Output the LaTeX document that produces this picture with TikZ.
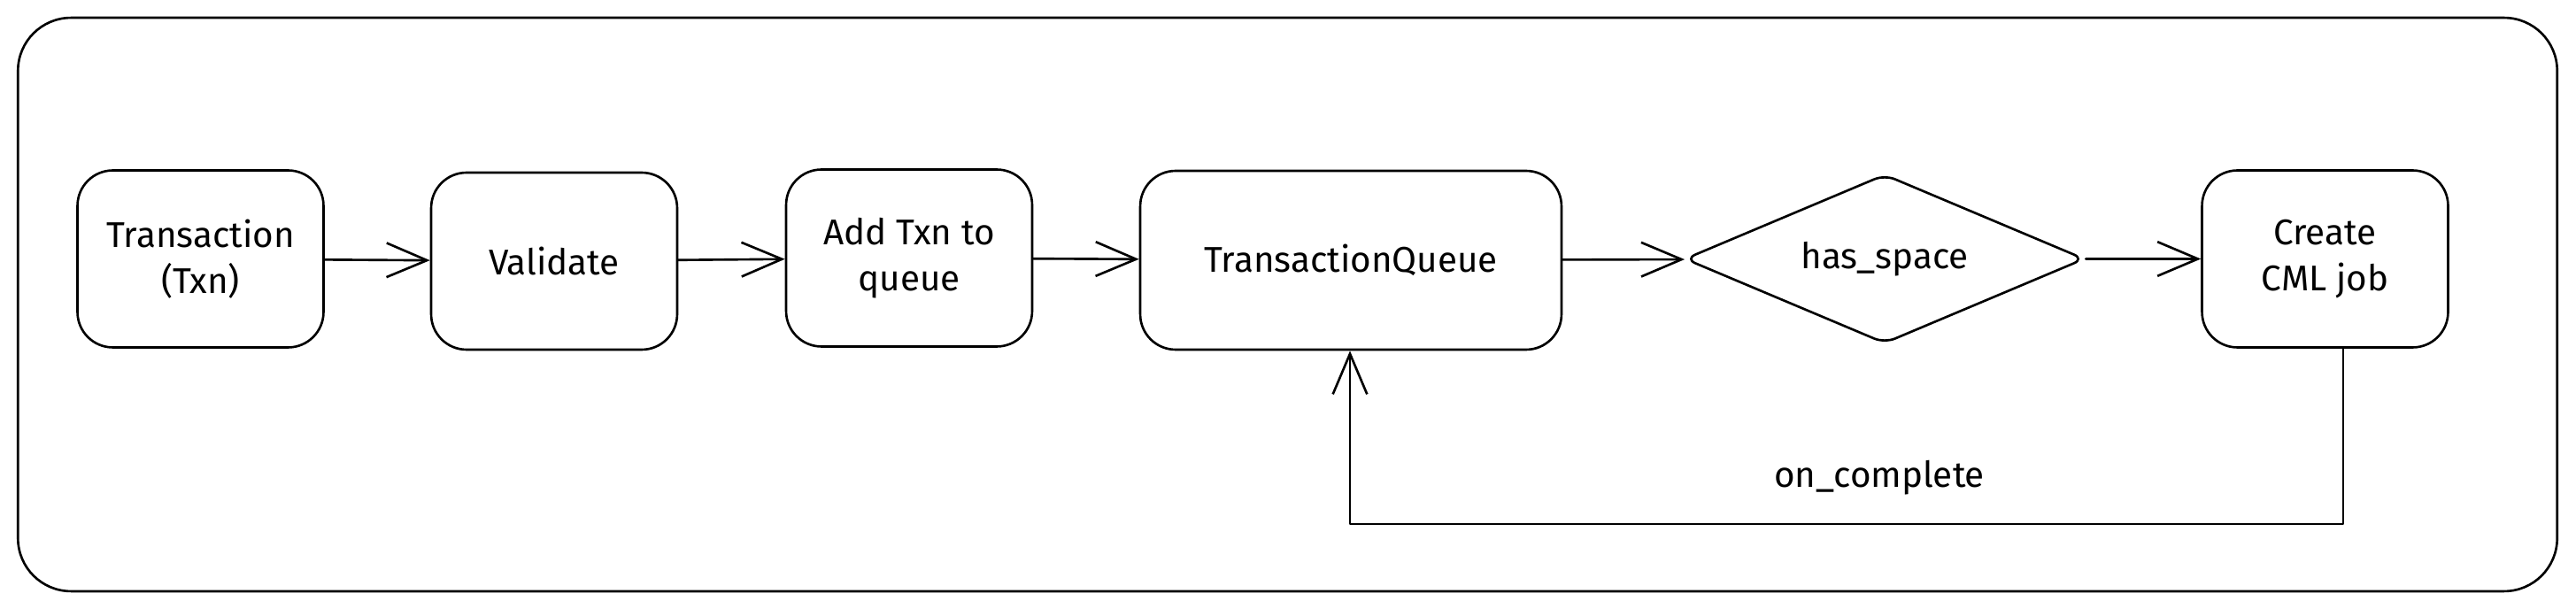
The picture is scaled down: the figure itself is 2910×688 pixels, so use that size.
\documentclass[tikz,border=0pt]{standalone}
\usepackage{fontspec}
\setmainfont{Fira Sans}
\usetikzlibrary{arrows.meta,shapes.geometric}
\begin{document}
\begin{tikzpicture}[x=0.02cm,y=-0.02cm,
  line width=1.5pt, line join=round, line cap=round,
  lbl/.style={font=\fontsize{23}{29.5}\selectfont, align=center},
  stepbox/.style={draw, lbl, rounded corners=0.8cm, minimum width=5.56cm, minimum height=4cm, inner sep=0pt},
  decide/.style={draw, lbl, diamond, shape aspect=2.37, minimum width=9.04cm, minimum height=3.82cm, inner sep=0pt, rounded corners=0.25cm},
  flow/.style={-{Straight Barb[length=26pt,width=22pt,line width=1.5pt]}}
]
\useasboundingbox (0,0) rectangle (2910,688);
\node[draw, rounded corners=1.2cm, minimum width=57.38cm, minimum height=12.96cm, inner sep=0pt] (frame) at (1454.5,344) {};
\node[stepbox] (txn) at (226.5,292.5) {Transaction\\(Txn)};
\node[stepbox] (val) at (626,295) {Validate};
\node[stepbox] (add) at (1027,291.5) {Add Txn to\\queue};
\node[stepbox, minimum width=9.52cm, minimum height=4.04cm] (queue) at (1526,294) {TransactionQueue};
\node[decide] (space) at (2129,292.5) {has\_space};
\node[stepbox] (job) at (2626.5,292.5) {Create\\CML job};
\node[lbl] (oncomplete) at (2123,540) {on\_complete};
\coordinate (loopR) at (2647,592);
\coordinate (loopL) at (1525,592);
\draw[flow] (txn) -- (val);
\draw[flow] (val) -- (add);
\draw[flow] (add) -- (queue);
\draw[flow] (queue) -- (space);
\draw[flow] (space) -- (job);
\draw[flow] (job.south -| loopR) -- (loopR) -- (loopL) -- (queue.south -| loopL);
\end{tikzpicture}
\end{document}
